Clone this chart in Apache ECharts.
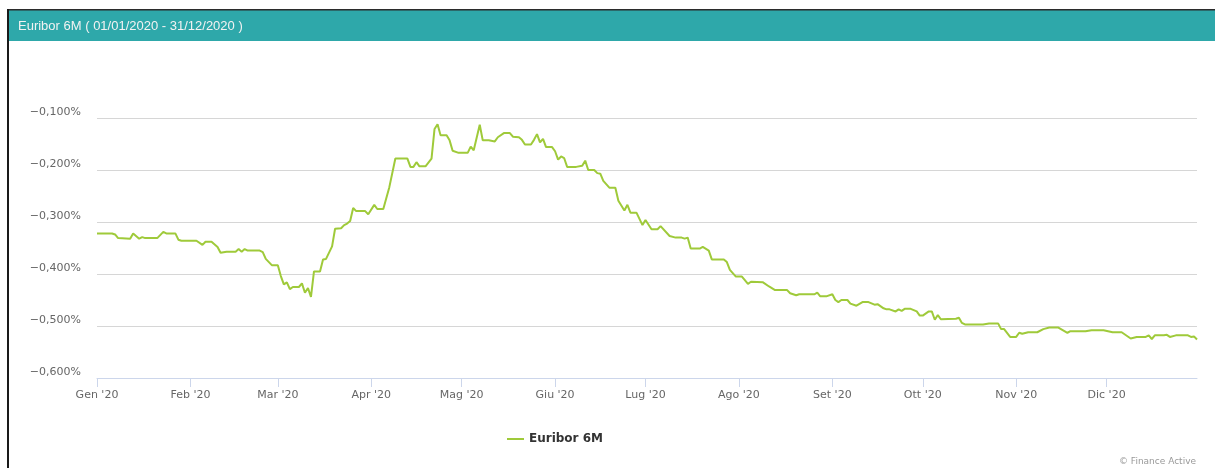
<!DOCTYPE html>
<html>
<head>
<meta charset="utf-8">
<script src="https://cdn.jsdelivr.net/npm/echarts@6/dist/echarts.min.js"></script>
<style>
html,body{margin:0;padding:0;background:#fff;}
#chart{width:1215px;height:468px;}
</style>
</head>
<body>
<div id="chart"></div>
<script>
const chartTitle = "Euribor 6M ( 01/01/2020 - 31/12/2020 )";
const seriesName = "Euribor 6M";
const creditText = "© Finance Active";
const monthNames = ['Gen','Feb','Mar','Apr','Mag','Giu','Lug','Ago','Set','Ott','Nov','Dic'];
const yTicks = [-0.6, -0.5, -0.4, -0.3, -0.2, -0.1];
const dates = [
"2020-01-01","2020-01-06","2020-01-07","2020-01-08","2020-01-12","2020-01-13","2020-01-15","2020-01-16","2020-01-17","2020-01-21",
"2020-01-23","2020-01-24","2020-01-27","2020-01-28","2020-01-29","2020-02-03","2020-02-05","2020-02-06","2020-02-08","2020-02-10",
"2020-02-11","2020-02-13","2020-02-16","2020-02-17","2020-02-18","2020-02-19","2020-02-20","2020-02-24","2020-02-25","2020-02-26",
"2020-02-28","2020-03-01","2020-03-02","2020-03-03","2020-03-04","2020-03-05","2020-03-06","2020-03-08","2020-03-09","2020-03-10",
"2020-03-11","2020-03-12","2020-03-13","2020-03-15","2020-03-16","2020-03-17","2020-03-19","2020-03-20","2020-03-22","2020-03-23",
"2020-03-24","2020-03-25","2020-03-26","2020-03-27","2020-03-30","2020-03-31","2020-04-02","2020-04-03","2020-04-05","2020-04-07",
"2020-04-09","2020-04-13","2020-04-14","2020-04-15","2020-04-16","2020-04-17","2020-04-19","2020-04-21","2020-04-22","2020-04-23",
"2020-04-24","2020-04-26","2020-04-27","2020-04-28","2020-04-30","2020-05-03","2020-05-04","2020-05-05","2020-05-07","2020-05-08",
"2020-05-10","2020-05-12","2020-05-13","2020-05-15","2020-05-17","2020-05-18","2020-05-20","2020-05-21","2020-05-22","2020-05-24",
"2020-05-25","2020-05-26","2020-05-27","2020-05-28","2020-05-29","2020-05-31","2020-06-01","2020-06-02","2020-06-03","2020-06-04",
"2020-06-05","2020-06-08","2020-06-10","2020-06-11","2020-06-12","2020-06-14","2020-06-15","2020-06-16","2020-06-17","2020-06-19",
"2020-06-21","2020-06-22","2020-06-24","2020-06-25","2020-06-26","2020-06-28","2020-06-30","2020-07-01","2020-07-03","2020-07-05",
"2020-07-06","2020-07-09","2020-07-11","2020-07-13","2020-07-14","2020-07-15","2020-07-16","2020-07-19","2020-07-20","2020-07-22",
"2020-07-23","2020-07-27","2020-07-28","2020-07-29","2020-07-31","2020-08-02","2020-08-04","2020-08-05","2020-08-09","2020-08-11",
"2020-08-13","2020-08-17","2020-08-18","2020-08-20","2020-08-21","2020-08-26","2020-08-27","2020-08-28","2020-08-30","2020-09-01",
"2020-09-02","2020-09-03","2020-09-04","2020-09-06","2020-09-07","2020-09-09","2020-09-11","2020-09-13","2020-09-15","2020-09-16",
"2020-09-18","2020-09-19","2020-09-20","2020-09-22","2020-09-23","2020-09-24","2020-09-25","2020-09-27","2020-09-29","2020-09-30",
"2020-10-01","2020-10-03","2020-10-04","2020-10-05","2020-10-06","2020-10-07","2020-10-12","2020-10-13","2020-10-14","2020-10-15",
"2020-10-18","2020-10-21","2020-10-23","2020-10-26","2020-10-27","2020-10-28","2020-10-30","2020-11-01","2020-11-02","2020-11-03",
"2020-11-05","2020-11-08","2020-11-10","2020-11-12","2020-11-15","2020-11-18","2020-11-19","2020-11-24","2020-11-26","2020-11-30",
"2020-12-03","2020-12-06","2020-12-09","2020-12-11","2020-12-14","2020-12-15","2020-12-16","2020-12-17","2020-12-20","2020-12-21",
"2020-12-22","2020-12-24","2020-12-28","2020-12-29","2020-12-30","2020-12-31"
];
const values = [
-0.322,-0.322,-0.324,-0.331,-0.332,-0.322,-0.332,-0.329,-0.331,-0.331,
-0.319,-0.322,-0.322,-0.334,-0.336,-0.336,-0.344,-0.338,-0.338,-0.348,
-0.359,-0.357,-0.357,-0.352,-0.357,-0.352,-0.355,-0.355,-0.358,-0.371,
-0.383,-0.383,-0.404,-0.420,-0.416,-0.429,-0.425,-0.425,-0.418,-0.436,
-0.427,-0.444,-0.395,-0.395,-0.372,-0.371,-0.347,-0.313,-0.312,-0.306,
-0.303,-0.298,-0.273,-0.279,-0.279,-0.285,-0.267,-0.275,-0.275,-0.233,
-0.178,-0.178,-0.194,-0.194,-0.185,-0.193,-0.193,-0.178,-0.121,-0.112,
-0.133,-0.133,-0.143,-0.163,-0.167,-0.167,-0.155,-0.162,-0.113,-0.143,
-0.143,-0.145,-0.137,-0.129,-0.129,-0.136,-0.137,-0.142,-0.151,-0.151,
-0.142,-0.131,-0.147,-0.140,-0.156,-0.156,-0.164,-0.180,-0.174,-0.177,
-0.194,-0.194,-0.192,-0.182,-0.200,-0.200,-0.206,-0.207,-0.221,-0.234,
-0.234,-0.259,-0.278,-0.267,-0.282,-0.282,-0.306,-0.296,-0.314,-0.314,
-0.308,-0.327,-0.330,-0.330,-0.332,-0.330,-0.351,-0.351,-0.348,-0.355,
-0.372,-0.372,-0.377,-0.392,-0.405,-0.405,-0.419,-0.415,-0.416,-0.424,
-0.431,-0.431,-0.437,-0.441,-0.439,-0.439,-0.436,-0.443,-0.443,-0.439,
-0.450,-0.454,-0.450,-0.450,-0.457,-0.461,-0.454,-0.454,-0.459,-0.458,
-0.466,-0.468,-0.468,-0.472,-0.468,-0.471,-0.467,-0.467,-0.472,-0.480,
-0.480,-0.472,-0.472,-0.488,-0.479,-0.487,-0.486,-0.484,-0.494,-0.497,
-0.497,-0.497,-0.495,-0.495,-0.506,-0.506,-0.521,-0.521,-0.513,-0.515,
-0.512,-0.512,-0.506,-0.503,-0.503,-0.513,-0.510,-0.510,-0.508,-0.508,
-0.512,-0.512,-0.524,-0.521,-0.521,-0.518,-0.525,-0.518,-0.518,-0.517,
-0.521,-0.518,-0.518,-0.521,-0.520,-0.526
];

const chart = echarts.init(document.getElementById('chart'), null, {renderer: 'canvas'});
const seriesData = dates.map((d, i) => [d, values[i]]);
const axisFont = '"DejaVu Sans", Verdana, sans-serif';

function fmtY(v) {
  const s = Math.abs(v).toFixed(3).replace('.', ',');
  return (v < 0 ? '\u2212' : '') + s + '%';
}

chart.setOption({
  animation: false,
  backgroundColor: '#ffffff',
  graphic: [
    {type: 'rect', shape: {x: 8, y: 10, width: 1207, height: 31}, style: {fill: '#2ea8aa'}, silent: true},
    {type: 'rect', shape: {x: 8, y: 9, width: 1207, height: 1.5}, style: {fill: '#2b2b2b'}, silent: true},
    {type: 'rect', shape: {x: 7, y: 9, width: 2, height: 459}, style: {fill: '#1a1a1a'}, silent: true},
    {type: 'text', left: 18, top: 20, style: {text: chartTitle, fill: '#f2f2f2', font: '13px "Liberation Sans", Arial, sans-serif'}, silent: true},
    {type: 'text', right: 19, top: 457, style: {text: creditText, fill: '#999999', font: '9px ' + axisFont}, silent: true}
  ],
  grid: {left: 97, right: 18, top: 118, bottom: 90, containLabel: false},
  legend: {
    left: 502, top: 428,
    itemWidth: 17, itemHeight: 2, itemGap: 8,
    icon: 'rect',
    data: [seriesName],
    textStyle: {color: '#333333', fontWeight: 'bold', fontSize: 12, fontFamily: axisFont}
  },
  xAxis: {
    type: 'time',
    min: '2020-01-01',
    max: '2020-12-31',
    splitNumber: 12,
    axisLine: {show: true, lineStyle: {color: '#ccd6eb', width: 1}},
    axisTick: {show: true, length: 9, lineStyle: {color: '#ccd6eb'}},
    splitLine: {show: false},
    axisLabel: {
      color: '#666666', fontSize: 11, fontFamily: axisFont, margin: 12,
      showMinLabel: true, showMaxLabel: false,
      formatter: function (val) { const d = new Date(val); return monthNames[d.getMonth()] + " '20"; }
    }
  },
  yAxis: {
    type: 'value',
    min: yTicks[0], max: yTicks[yTicks.length - 1], interval: 0.1,
    axisLine: {show: false},
    axisTick: {show: false},
    splitLine: {show: true, lineStyle: {color: '#d6d6d6', width: 1}},
    axisLabel: {
      color: '#666666', fontSize: 11, fontFamily: axisFont, margin: 16,
      verticalAlign: 'bottom', lineHeight: 12,
      formatter: fmtY
    }
  },
  series: [{
    name: seriesName,
    type: 'line',
    data: seriesData,
    showSymbol: false,
    symbol: 'none',
    lineStyle: {color: '#9fca3a', width: 2},
    itemStyle: {color: '#9fca3a'}
  }]
});
</script>
</body>
</html>
